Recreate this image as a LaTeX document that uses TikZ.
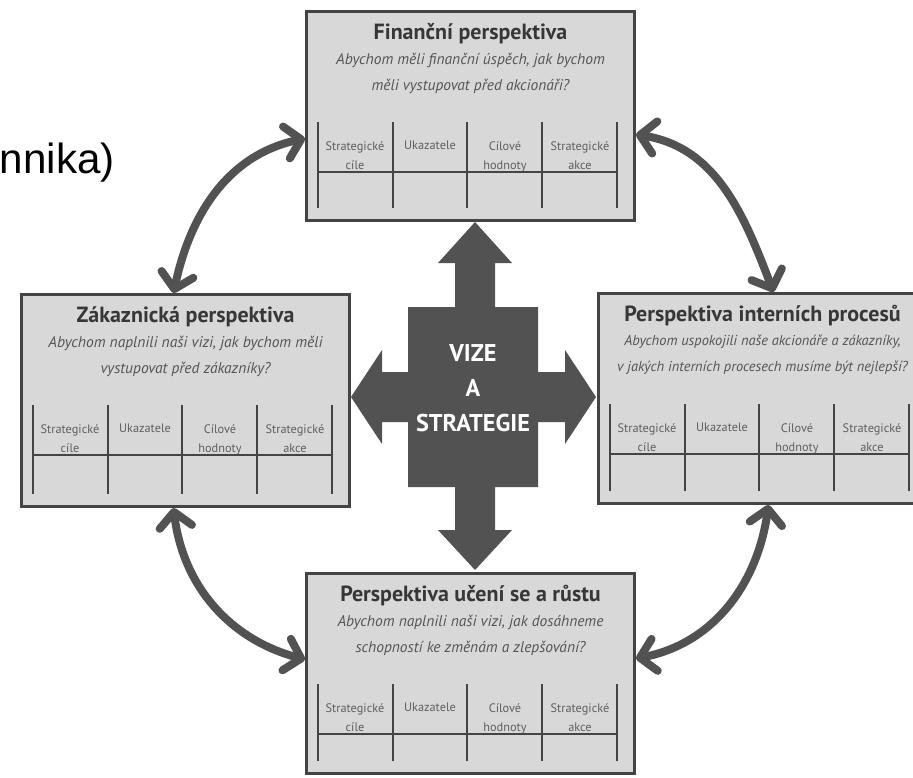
\documentclass[tikz,border=0pt]{standalone}
\usepackage{fontspec}
\setmainfont{Liberation Sans}
\newfontfamily\boxfont{PT Sans}
\usetikzlibrary{calc,arrows.meta}

\definecolor{boxfill}{RGB}{216,216,216}
\definecolor{boxline}{RGB}{68,68,68}
\definecolor{crossgray}{RGB}{82,82,82}
\definecolor{txtgray}{RGB}{55,55,55}

% one perspective box: name, left, top, height, title, question 1, question 2
\newcommand{\perspbox}[7]{%
  \node[pbox, minimum height=#4*0.2mm, anchor=north west] (#1) at (#2,-#3) {};
  \node[ptitle] (#1-title) at ($(#1.north)+(0,-24)$) {#5};
  \node[pquest] (#1-q1) at ($(#1.north)+(0,-50)$) {#6};
  \node[pquest] (#1-q2) at ($(#1.north)+(0,-76)$) {#7};
  \foreach \cx in {13,88,162,237,312}
    \draw[tline] ($(#1.north west)+(\cx,-112)$) -- ($(#1.south west)+(\cx,14)$);
  \draw[tline] ($(#1.north west)+(13,-162)$) -- ($(#1.north west)+(312,-162)$);
  \foreach \hx/\htext [count=\i] in {50/{Strategické\\cíle},125/Ukazatele,
                                     200/{Cílové\\hodnoty},275/{Strategické\\akce}}
    \node[phead] (#1-h\i) at ($(#1.north west)+(\hx,-131)$) {\htext};
}

\begin{document}
\begin{tikzpicture}[
    x=0.2mm, y=0.2mm,
    pbox/.style   = {draw=boxline, fill=boxfill, line width=0.6mm,
                     minimum width=65.6mm, inner sep=0pt},
    ptitle/.style = {text=txtgray, inner sep=0pt,
                     font=\boxfont\bfseries\fontsize{12.5}{14}\selectfont},
    pquest/.style = {text=txtgray!85, inner sep=0pt,
                     font=\boxfont\itshape\fontsize{8.8}{10}\selectfont},
    phead/.style  = {text=txtgray!80, inner sep=0pt, anchor=north, align=center,
                     font=\boxfont\fontsize{7}{10.8}\selectfont},
    tline/.style  = {draw=boxline, line width=0.3mm},
    cycarrow/.style = {draw=crossgray, line width=1.6mm,
                       {Straight Barb[length=3mm, width=6.5mm, round]}-{Straight Barb[length=3mm, width=6.5mm, round]}},
    vize/.style   = {text=white, align=center, inner sep=0pt,
                     font=\boxfont\bfseries\fontsize{13.8}{20}\selectfont},
  ]
  \useasboundingbox (0,0) rectangle (913,-777);
  \clip (0,0) rectangle (913,-777);
  \fill[white] (0,0) rectangle (913,-777);

  % slide title, cut off
  \node[anchor=base east, inner sep=0pt, font=\fontsize{24}{28}\selectfont] (slidetitle) at (115,-173) {nnika)};

  % the four perspectives
  \perspbox{fin}{305}{10}{209}{Finanční perspektiva}
    {Abychom měli finanční úspěch, jak bychom}{měli vystupovat před akcionáři?}
  \perspbox{zak}{20}{293}{212}{Zákaznická perspektiva}
    {Abychom naplnili naši vizi, jak bychom měli}{vystupovat před zákazníky?}
  \perspbox{int}{597}{292}{210}{Perspektiva interních procesů}
    {\fontsize{8.2}{10}\selectfont Abychom uspokojili naše akcionáře a zákazníky,}
    {\fontsize{8.2}{10}\selectfont v jakých interních procesech musíme být nejlepší?}
  \perspbox{uce}{305}{572}{200}{Perspektiva učení se a růstu}
    {Abychom naplnili naši vizi, jak dosáhneme}{schopností ke změnám a zlepšování?}

  % vision cross
  \fill[crossgray] (475,-222) -- (512,-263) -- (495,-263) -- (495,-307) -- (538,-307)
    -- (538,-372) -- (565,-372) -- (565,-350) -- (596,-397) -- (565,-444) -- (565,-422)
    -- (538,-422) -- (538,-487) -- (495,-487) -- (495,-530) -- (512,-530) -- (475,-570)
    -- (438,-530) -- (455,-530) -- (455,-487) -- (408,-487) -- (408,-422) -- (382,-422)
    -- (382,-444) -- (351,-397) -- (382,-350) -- (382,-372) -- (408,-372) -- (408,-307)
    -- (455,-307) -- (455,-263) -- (438,-263) -- cycle;
  \node[vize] (vize) at (473,-388) {VIZE\\A\\STRATEGIE};

  % links between the perspectives
  \draw[cycarrow] ([yshift=-4.5mm]fin.west) to[out=192, in=78] ([xshift=-2.4mm]zak.north);
  \draw[cycarrow] ([yshift=-3.7mm]fin.east) to[out=-9, in=111] ([xshift=2.2mm]int.north);
  \draw[cycarrow] ([xshift=-2.4mm]zak.south) to[out=-83, in=165] ([yshift=2.8mm]uce.west);
  \draw[cycarrow] ([xshift=1.2mm]int.south) to[out=262, in=11] ([yshift=3mm]uce.east);
\end{tikzpicture}
\end{document}
